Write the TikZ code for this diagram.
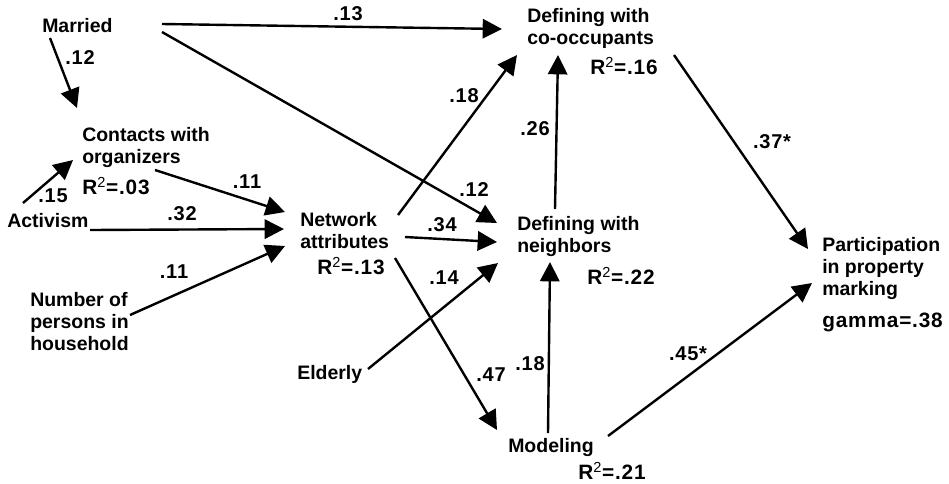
\documentclass[tikz,border=0pt]{standalone}
\usepackage{fontspec}
\setmainfont{Liberation Sans}
\newfontfamily\coeffont[LetterSpace=4]{Liberation Sans}
\usetikzlibrary{arrows.meta}
\newcommand{\rsq}{R\textsuperscript{\mdseries 2}}
\begin{document}
\begin{tikzpicture}[x=0.75pt,y=-0.75pt,
  lbl/.style={font=\fontsize{14.6}{16.5}\selectfont\bfseries, inner sep=0pt,
              anchor=north west, align=left},
  stat/.style={lbl, font=\coeffont\fontsize{15.6}{17}\selectfont\bfseries},
  coef/.style={font=\coeffont\fontsize{15}{17}\selectfont\bfseries, inner sep=0pt},
  link/.style={line width=1.8pt, -{Triangle[length=14.5pt,width=14.5pt]}}]
\fill[white] (0,0) rectangle (949,483);
\useasboundingbox (0,0) rectangle (949,483);

% variables
\node[lbl]  (married)    at (42,18)   {Married};
\node[lbl]  (contacts)   at (82,127)  {Contacts with\\organizers};
\node[stat] (contactsR)  at (82,177)  {\rsq=.03};
\node[lbl]  (activism)   at (7,213)   {Activism};
\node[lbl]  (persons)    at (30,292)  {Number of\\persons in\\household};
\node[lbl]  (network)    at (300,212) {Network\\attributes};
\node[stat] (networkR)   at (317,257) {\rsq=.13};
\node[lbl]  (cooc)       at (527,8)   {Defining with\\co-occupants};
\node[stat] (coocR)      at (590,57)  {\rsq=.16};
\node[lbl]  (neigh)      at (517,216) {Defining with\\neighbors};
\node[stat] (neighR)     at (587,267) {\rsq=.22};
\node[lbl]  (elderly)    at (297,365) {Elderly};
\node[lbl]  (modeling)   at (508,438) {Modeling};
\node[stat] (modelingR)  at (578,462) {\rsq=.21};
\node[lbl]  (partic)     at (822,237) {Participation\\in property\\marking};
\node[stat] (particG)    at (822,313) {gamma=.38};

% connector ends
\coordinate (married-s)   at (50,38);
\coordinate (married-e1)  at (162,24);
\coordinate (married-e2)  at (162,32);
\coordinate (contacts-n)  at (77,108);
\coordinate (contacts-sw) at (73,160);
\coordinate (contacts-se) at (155,170);
\coordinate (activism-n)  at (23,203);
\coordinate (activism-e)  at (90,230);
\coordinate (persons-e)   at (130,315);
\coordinate (network-w1)  at (285,212);
\coordinate (network-w2)  at (284,229);
\coordinate (network-w3)  at (285,246);
\coordinate (network-ne)  at (398,215);
\coordinate (network-e)   at (405,237);
\coordinate (network-se)  at (395,258);
\coordinate (cooc-w)      at (502,29);
\coordinate (cooc-sw)     at (517,55);
\coordinate (cooc-s)      at (558,55);
\coordinate (cooc-se)     at (674,55);
\coordinate (neigh-w1)    at (497,223);
\coordinate (neigh-w2)    at (497,242);
\coordinate (neigh-w3)    at (498,263);
\coordinate (neigh-n)     at (555,209);
\coordinate (neigh-s)     at (550,262);
\coordinate (elderly-e)   at (368,369);
\coordinate (modeling-nw) at (497,430);
\coordinate (modeling-n)  at (548,433);
\coordinate (modeling-e)  at (608,436);
\coordinate (partic-w1)   at (808,249);
\coordinate (partic-w2)   at (812,283);

% paths
\draw[link] (married-s)   -- (contacts-n);
\draw[link] (activism-n)  -- (contacts-sw);
\draw[link] (contacts-se) -- (network-w1);
\draw[link] (activism-e)  -- (network-w2);
\draw[link] (persons-e)   -- (network-w3);
\draw[link] (married-e1)  -- (cooc-w);
\draw[link] (married-e2)  -- (neigh-w1);
\draw[link] (network-ne)  -- (cooc-sw);
\draw[link] (network-e)   -- (neigh-w2);
\draw[link] (network-se)  -- (modeling-nw);
\draw[link] (elderly-e)   -- (neigh-w3);
\draw[link] (neigh-n)     -- (cooc-s);
\draw[link] (modeling-n)  -- (neigh-s);
\draw[link] (cooc-se)     -- (partic-w1);
\draw[link] (modeling-e)  -- (partic-w2);

% path coefficients
\node[coef] (c1)  at (80,58)   {.12};
\node[coef] (c2)  at (53,196)  {.15};
\node[coef] (c3)  at (247,182) {.11};
\node[coef] (c4)  at (182,214) {.32};
\node[coef] (c5)  at (174,272) {.11};
\node[coef] (c6)  at (348,14)  {.13};
\node[coef] (c7)  at (474,190) {.12};
\node[coef] (c8)  at (464,96)  {.18};
\node[coef] (c9)  at (442,225) {.34};
\node[coef] (c10) at (491,375) {.47};
\node[coef] (c11) at (444,278) {.14};
\node[coef] (c12) at (535,129) {.26};
\node[coef] (c13) at (530,364) {.18};
\node[coef] (c14) at (772,142) {.37*};
\node[coef] (c15) at (688,354) {.45*};
\end{tikzpicture}
\end{document}
